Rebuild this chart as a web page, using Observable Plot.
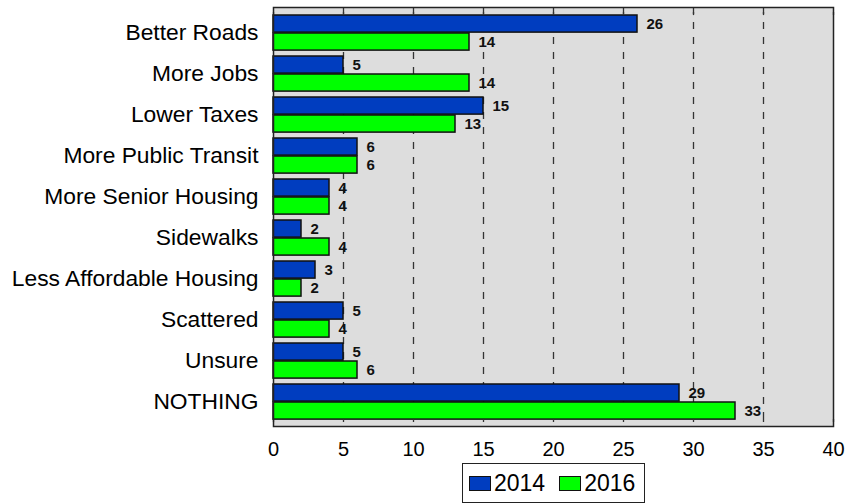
<!DOCTYPE html>
<html>
<head>
<meta charset="utf-8">
<script src="https://cdn.jsdelivr.net/npm/d3@7"></script>
<script src="https://cdn.jsdelivr.net/npm/@observablehq/plot@0.6"></script>
<style>
  html, body { margin: 0; padding: 0; background: white; }
  #wrap { position: relative; width: 849px; height: 504px; font-family: "Liberation Sans", Arial, sans-serif; }
  #legend { position: absolute; left: 462px; top: 463px; width: 181px; height: 38px; border: 1px solid #222; background: white;
            display: flex; align-items: center; font-size: 23px; color: black; box-sizing: content-box; }
  .item { display: flex; align-items: center; }
  .sw { width: 20px; height: 13px; border: 1px solid #111; margin-right: 3px; }
</style>
</head>
<body>
<div id="wrap"></div>
<script>
const categories = ["Better Roads", "More Jobs", "Lower Taxes", "More Public Transit", "More Senior Housing", "Sidewalks", "Less Affordable Housing", "Scattered", "Unsure", "NOTHING"];
const values2014 = [26, 5, 15, 6, 4, 2, 3, 5, 5, 29];
const values2016 = [14, 14, 13, 6, 4, 4, 2, 4, 6, 33];
const years = ["2014", "2016"];
const xTicks = [0, 5, 10, 15, 20, 25, 30, 35, 40];
const gridTicks = [5, 10, 15, 20, 25, 30, 35];
const colors = ["#003DBF", "#00FF00"];

const rows2014 = categories.map((c, i) => ({category: c, value: values2014[i]}));
const rows2016 = categories.map((c, i) => ({category: c, value: values2016[i]}));

const plotHeight = 462, marginTop = 7, marginBottom = 36;
const bw = (plotHeight - marginTop - marginBottom) / categories.length;

const chart = Plot.plot({
  width: 849,
  height: plotHeight,
  marginTop, marginBottom,
  marginLeft: 273,
  marginRight: 16,
  style: {fontFamily: "'Liberation Sans', Arial, sans-serif", background: "white", color: "black", overflow: "visible"},
  x: {domain: [0, 40], ticks: xTicks},
  y: {domain: categories, padding: 0},
  marks: [
    Plot.frame({fill: "#dddddd"}),
    Plot.ruleX(gridTicks, {x: d => d, stroke: "#333", strokeDasharray: "7,8", strokeWidth: 1.3}),
    Plot.barX(rows2014, {x: "value", y: "category", fill: colors[0], stroke: "#111", strokeWidth: 1.5, insetTop: 3, insetBottom: bw - 21}),
    Plot.barX(rows2016, {x: "value", y: "category", fill: colors[1], stroke: "#111", strokeWidth: 1.5, insetTop: 21, insetBottom: bw - 39}),
    Plot.text(rows2014, {x: "value", y: "category", text: d => String(d.value), dx: 9, dy: -9, textAnchor: "start", fontWeight: "bold", fontSize: 15, fill: "#111"}),
    Plot.text(rows2016, {x: "value", y: "category", text: d => String(d.value), dx: 9, dy: 9, textAnchor: "start", fontWeight: "bold", fontSize: 15, fill: "#111"}),
    Plot.tickX(xTicks, {x: d => d, y: () => categories[0], insetBottom: bw - 4, stroke: "#333", strokeWidth: 1.3}),
    Plot.tickX(xTicks, {x: d => d, y: () => categories[categories.length - 1], insetTop: bw - 4, stroke: "#333", strokeWidth: 1.3}),
    Plot.frame({stroke: "#222", strokeWidth: 1.5}),
    Plot.axisX({tickSize: 0, tickPadding: 15, fontSize: 20, label: null}),
    Plot.axisY({tickSize: 0, tickPadding: 15, fontSize: 22.8, label: null})
  ]
});

const wrap = document.getElementById("wrap");
wrap.appendChild(chart);

const legend = document.createElement("div");
legend.id = "legend";
years.forEach((y, i) => {
  const item = document.createElement("div");
  item.className = "item";
  item.style.marginLeft = i === 0 ? "6px" : "14px";
  const sw = document.createElement("span");
  sw.className = "sw";
  sw.style.background = colors[i];
  const t = document.createElement("span");
  t.textContent = y;
  item.appendChild(sw);
  item.appendChild(t);
  legend.appendChild(item);
});
wrap.appendChild(legend);
</script>
</body>
</html>
